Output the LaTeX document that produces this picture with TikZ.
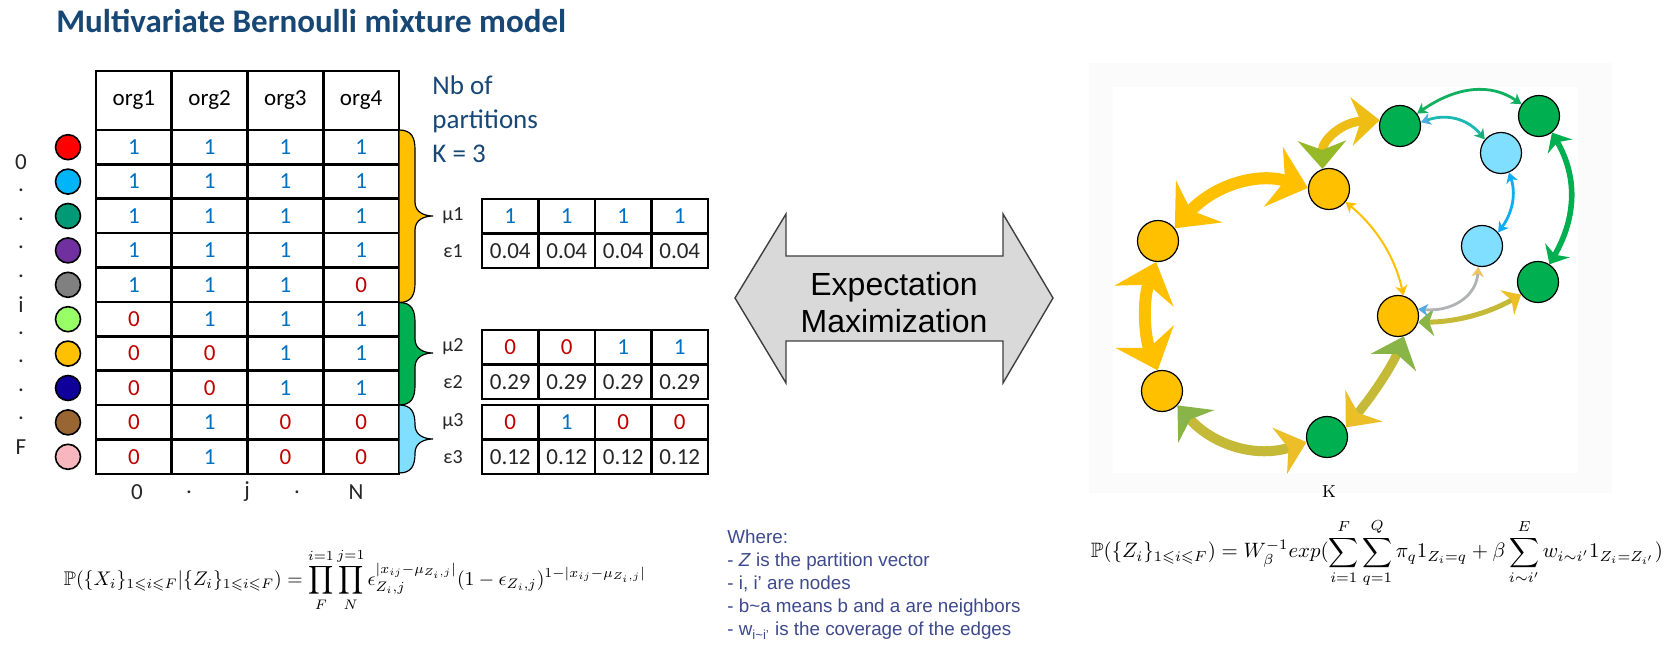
\documentclass[tikz,border=0pt]{standalone}
\usepackage{amsmath,amssymb}
\usepackage{graphicx}
\usepackage{fontspec}
\newfontfamily\calibri{Carlito}
\newfontfamily\arial{Liberation Sans}
\usepackage{xcolor}
\usepackage{tikz}
\usetikzlibrary{arrows.meta}

\definecolor{titleBlue}{RGB}{23,71,117}
\definecolor{noteBlue}{RGB}{62,74,140}
\definecolor{oneBlue}{RGB}{0,112,192}
\definecolor{zeroRed}{RGB}{192,0,0}
\definecolor{dotRed}{RGB}{255,0,0}
\definecolor{dotCyan}{RGB}{0,180,250}
\definecolor{dotTeal}{RGB}{0,155,118}
\definecolor{dotPurple}{RGB}{112,48,160}
\definecolor{dotGray}{RGB}{128,128,128}
\definecolor{dotLime}{RGB}{153,255,102}
\definecolor{dotAmber}{RGB}{255,192,0}
\definecolor{dotNavy}{RGB}{16,0,154}
\definecolor{dotBrown}{RGB}{153,102,51}
\definecolor{dotPink}{RGB}{248,182,190}
\definecolor{nodeGreen}{RGB}{0,176,80}
\definecolor{nodeYellow}{RGB}{255,192,0}
\definecolor{nodeSky}{RGB}{128,222,255}
\definecolor{emGray}{RGB}{217,217,217}
\definecolor{tipOlive}{RGB}{150,185,40}
\definecolor{tipGreen}{RGB}{136,180,72}
\definecolor{tipGold}{RGB}{236,190,40}
\definecolor{edgeAmber}{RGB}{238,190,20}
\definecolor{edgeOlive}{RGB}{196,186,56}
\definecolor{edgeGray}{RGB}{176,178,180}
\definecolor{tipSky}{RGB}{80,170,225}
\definecolor{tipPeach}{RGB}{240,195,100}
\definecolor{edgeTeal}{RGB}{25,185,180}
\definecolor{tipTeal}{RGB}{20,176,120}
\definecolor{edgeGreen}{RGB}{16,176,96}
\definecolor{edgeBlue}{RGB}{16,174,240}

\begin{document}
\begin{tikzpicture}[x=0.5pt, y=-0.5pt,
  grid/.style={line width=1.3pt},
  cellnum/.style={font=\calibri\fontsize{11.5}{13}\selectfont, inner sep=0pt},
  v0/.style={text=zeroRed},
  v1/.style={text=oneBlue},
  idx/.style={font=\calibri\fontsize{11.5}{13}\selectfont, text=black!85, inner sep=0pt},
  param/.style={font=\calibri\fontsize{10}{12}\selectfont, text=black!85, inner sep=0pt},
  dot/.style={circle, draw, line width=0.8pt, minimum size=12.5pt, inner sep=0pt},
  partbrace/.style={draw, line width=0.6pt},
  gnode/.style={circle, draw, line width=0.6pt, minimum size=20.5pt, inner sep=0pt},
  note/.style={font=\arial\fontsize{9.4}{11.5}\selectfont, text=noteBlue, align=left, inner sep=0pt},
  /pgf/arrow keys/bighead/.style={length=18pt, width=31pt, inset=6pt},
  /pgf/arrow keys/midhead/.style={length=14pt, width=24pt, inset=4.5pt},
  /pgf/arrow keys/medhead/.style={length=8pt, width=14pt, inset=2.5pt},
  /pgf/arrow keys/thinhead/.style={length=5pt, width=6pt, inset=1.5pt}
]
\fill[white] (0,0) rectangle (1677,651);
\useasboundingbox (0,0) rectangle (1677,651);

\node[anchor=west, font=\calibri\bfseries\fontsize{16.5}{19}\selectfont, text=titleBlue, inner sep=0pt] (title) at (56,21) {Multivariate Bernoulli mixture model};

% data table
\draw[grid] (96,71) rectangle (399,474);
\foreach \x in {171.75,247.5,323.25} \draw[grid] (\x,71) -- (\x,474);
\foreach \k in {0,...,9} \draw[grid] (96,{130+34.4*\k}) -- (399,{130+34.4*\k});
\foreach \h [count=\c] in {org1,org2,org3,org4}
  \node[cellnum] (head\c) at ({58.125+75.75*\c},100.5) {\h};
\foreach \vals [count=\r] in {{1,1,1,1},{1,1,1,1},{1,1,1,1},{1,1,1,1},{1,1,1,0},{0,1,1,1},{0,0,1,1},{0,0,1,1},{0,1,0,0},{0,1,0,0}}
  \foreach \v [count=\c] in \vals
    \node[cellnum, v\v] (cell\r-\c) at ({58.125+75.75*\c},{112.8+34.4*\r}) {\v};
\foreach \col [count=\r] in {dotRed,dotCyan,dotTeal,dotPurple,dotGray,dotLime,dotAmber,dotNavy,dotBrown,dotPink}
  \node[dot, fill=\col] (dot\r) at (68,{112.8+34.4*\r}) {};
\foreach \lbl [count=\k] in {0,.,.,.,.,i,.,.,.,.,F}
  \node[idx] (row\k) at (21,{133.5+28.5*\k}) {\lbl};
\foreach \x/\lbl [count=\k] in {137/0,189/.,247/j,297/.,356/N}
  \node[idx] (colidx\k) at (\x,492) {\lbl};

% partition braces
\foreach \top/\tip/\bot/\col in {130/216/302.5/nodeYellow, 302.5/353/405/nodeGreen, 405/439/473/nodeSky}
  \filldraw[partbrace, fill=\col] (399,\top) .. controls (412,\top) and (415,{\top+8}) .. (415,{\top+20})
    -- (415,{\tip-14}) .. controls (415,{\tip-4}) and (424,\tip) .. (433,\tip)
    .. controls (424,\tip) and (415,{\tip+4}) .. (415,{\tip+14})
    -- (415,{\bot-20}) .. controls (415,{\bot-8}) and (412,\bot) .. (399,\bot) -- cycle;

\node[anchor=west, align=left, inner sep=0pt, font=\calibri\fontsize{13.5}{17}\selectfont, text=titleBlue] (nbpart) at (432,119) {Nb of\\partitions\\K = 3};

% parameter tables
\foreach \top/\mus/\eps [count=\k] in {199/{1,1,1,1}/0.04, 330/{0,0,1,1}/0.29, 405/{0,1,0,0}/0.12} {
  \draw[grid] (482,\top) rectangle (708,{\top+69});
  \draw[grid] (482,{\top+34.5}) -- (708,{\top+34.5});
  \foreach \x in {538.5,595,651.5} \draw[grid] (\x,\top) -- (\x,{\top+69});
  \node[param] (mu\k) at (453,{\top+17}) {μ\k};
  \node[param] (eps\k) at (453,{\top+52}) {ε\k};
  \foreach \v [count=\c] in \mus {
    \node[cellnum, v\v] (mu\k-\c) at ({453.75+56.5*\c},{\top+17.25}) {\v};
    \node[cellnum, text=black!85] (eps\k-\c) at ({453.75+56.5*\c},{\top+51.75}) {\eps};
  }
}

% EM double arrow
\filldraw[fill=emGray, draw=black!75, line width=0.7pt] (735,298) -- (786,214) -- (786,256) -- (1003,256) -- (1003,214)
  -- (1053,298) -- (1003,383) -- (1003,341) -- (786,341) -- (786,383) -- cycle;
\node[align=center, inner sep=0pt, font=\arial\fontsize{16}{18.5}\selectfont] (em) at (894,303) {Expectation\\Maximization};

% graph panel
\fill[black!1.5] (1089,63) rectangle (1612,493);
\fill[white] (1113,87) rectangle (1578,473);
\node[gnode, fill=nodeGreen] (g1) at (1400,126) {};
\node[gnode, fill=nodeGreen] (g2) at (1539,116) {};
\node[gnode, fill=nodeSky] (b1) at (1501,153) {};
\node[gnode, fill=nodeYellow] (y1) at (1329,189) {};
\node[gnode, fill=nodeYellow] (y2) at (1158,241) {};
\node[gnode, fill=nodeSky] (b2) at (1482,246) {};
\node[gnode, fill=nodeGreen] (g3) at (1538,282) {};
\node[gnode, fill=nodeYellow] (y3) at (1398,316) {};
\node[gnode, fill=nodeYellow] (y4) at (1162,391) {};
\node[gnode, fill=nodeGreen] (g4) at (1327,437) {};

\draw[line width=4.5pt, draw=edgeAmber, {Stealth[midhead, color=tipOlive]}-{Stealth[midhead]}] (y1.108) .. controls (1322,140) and (1342,122) .. (g1.164);
\draw[line width=6pt, draw=nodeYellow, {Stealth[bighead]}-{Stealth[bighead]}] (y2.37) .. controls (1214,185) and (1258,172) .. (y1.177);
\draw[line width=6pt, draw=nodeYellow, {Stealth[bighead]}-{Stealth[bighead]}] (y2.265) .. controls (1143,299) and (1144,335) .. (y4.102);
\draw[line width=5pt, draw=edgeOlive, {Stealth[midhead, color=tipGreen]}-{Stealth[midhead, color=tipGold]}] (y4.-43) .. controls (1214,446) and (1257,458) .. (g4.194);
\draw[line width=4.5pt, draw=edgeOlive, {Stealth[midhead, color=tipGold]}-{Stealth[midhead, color=tipGreen]}] (g4.27) .. controls (1374,394) and (1393,364) .. (y3.-74);
\draw[line width=2.5pt, draw=edgeOlive, {Stealth[medhead, color=tipGreen]}-{Stealth[medhead, color=tipGold]}] (y3.-17) .. controls (1455,322) and (1487,314) .. (g3.217);
\draw[line width=1.4pt, draw=edgeGray, {Stealth[thinhead, color=tipSky]}-{Stealth[thinhead, color=tipPeach]}] (y3.19) .. controls (1450,312) and (1476,298) .. (b2.260);
\draw[line width=1pt, draw=nodeYellow, {Stealth[thinhead]}-{Stealth[thinhead]}] (y1.-38) .. controls (1376,227) and (1395,257) .. (y3.75);
\draw[line width=1.4pt, draw=edgeTeal, {Stealth[thinhead, color=tipSky]}-{Stealth[thinhead, color=tipTeal]}] (g1.10) .. controls (1447,113) and (1468,119) .. (b1.140);
\draw[line width=1.4pt, draw=edgeGreen, {Stealth[thinhead]}-{Stealth[thinhead]}] (g1.36) .. controls (1457,86) and (1491,83) .. (g2.146);
\draw[line width=1.4pt, draw=edgeBlue, {Stealth[thinhead]}-{Stealth[thinhead]}] (b1.-68) .. controls (1516,193) and (1513,212) .. (b2.40);
\draw[line width=2.8pt, draw=nodeGreen, {Stealth[medhead]}-{Stealth[medhead]}] (g2.-52) .. controls (1577,176) and (1577,216) .. (g3.57);

\node[inner sep=0pt, font=\fontsize{8.7}{10}\selectfont] (klabel) at (1329,492) {K};

% formulas and notes
\node[inner sep=0pt] (lik) at (355,580) {\resizebox{291pt}{!}{$\displaystyle \mathbb{P}(\{X_i\}_{1\leqslant i\leqslant F}|\{Z_i\}_{1\leqslant i\leqslant F})=\prod_{F}^{i=1}\prod_{N}^{j=1}\epsilon_{Z_i,j}^{|x_{ij}-\mu_{Z_i,j}|}(1-\epsilon_{Z_i,j})^{1-|x_{ij}-\mu_{Z_i,j}|}$}};
\node[note, anchor=west] (where) at (727,585) {Where:\\- \textit{Z} is the partition vector\\- i, i’ are nodes\\- b\textasciitilde a means b and a are neighbors\\- w\textsubscript{i\textasciitilde i’} is the coverage of the edges};
\node[inner sep=0pt] (prior) at (1377,553) {\resizebox{286pt}{!}{$\displaystyle \mathbb{P}(\{Z_i\}_{1\leqslant i\leqslant F})=W_\beta^{-1}exp(\sum_{i=1}^{F}\sum_{q=1}^{Q}\pi_q 1_{Z_i=q}+\beta\sum_{i\sim i'}^{E}w_{i\sim i'}1_{Z_i=Z_{i'}})$}};
\end{tikzpicture}
\end{document}
